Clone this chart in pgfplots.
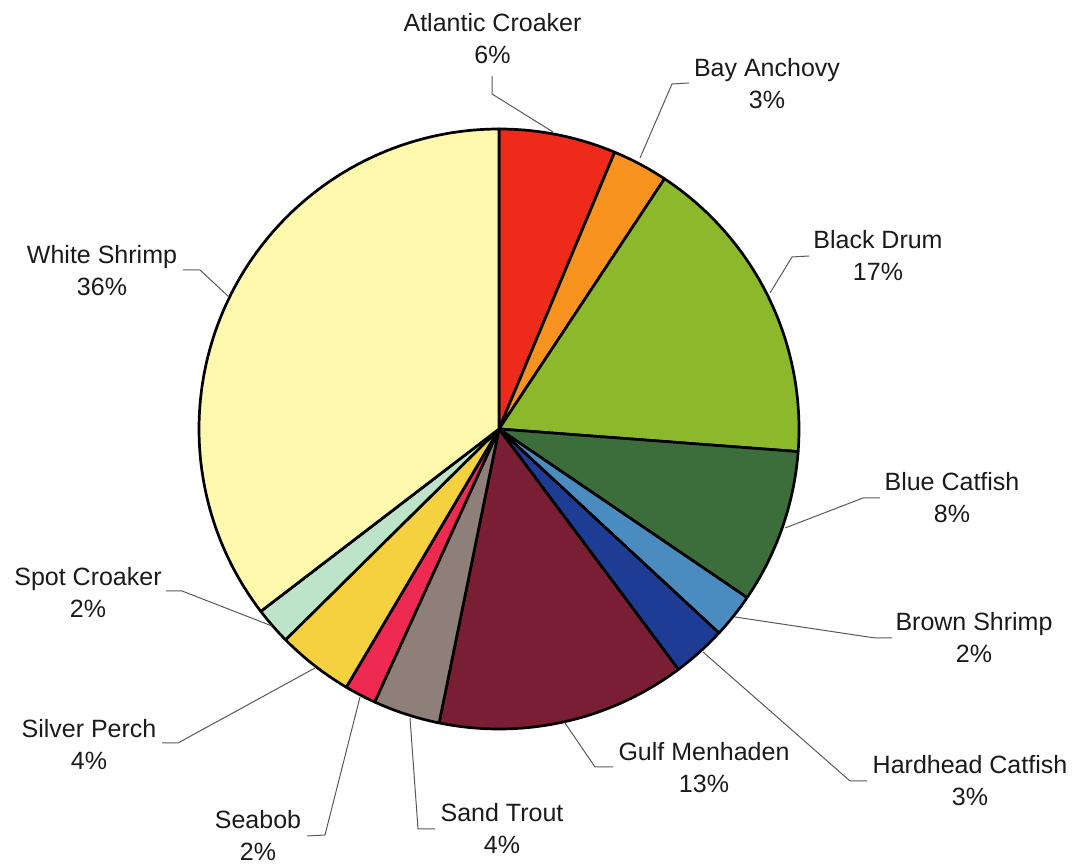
\documentclass[border=0pt]{standalone}
\usepackage{pgfplots}
\pgfplotsset{compat=1.18}
\usepackage{fontspec}
\setmainfont{Liberation Sans}
\definecolor{cAC}{HTML}{EE2A1B}
\definecolor{cBA}{HTML}{F7931E}
\definecolor{cBD}{HTML}{8CB82B}
\definecolor{cBC}{HTML}{3B6E3B}
\definecolor{cBS}{HTML}{4B8CC0}
\definecolor{cHC}{HTML}{1F3C94}
\definecolor{cGM}{HTML}{7A1E33}
\definecolor{cST}{HTML}{8E8079}
\definecolor{cSB}{HTML}{EE2A50}
\definecolor{cSP}{HTML}{F5D13F}
\definecolor{cSC}{HTML}{BDE3C8}
\definecolor{cWS}{HTML}{FFF9AE}
\definecolor{txt}{HTML}{1A1A1A}
% slice: #1 cumulative share before, #2 share of the slice (percent), #3 colour
\newcommand{\slice}[3]{%
  \addplot[draw=black, line width=1.35pt, line join=round, fill=#3,
    domain={90-3.6*(#1+#2)}:{90-3.6*(#1)}, samples=100]
    ({499+300*cos(x)},{436+300*sin(x)}) -- (axis cs:499,436) -- cycle;}
\newcommand{\lab}[3]{\node[anchor=north, align=center, inner sep=0pt, text=txt,
  font=\fontsize{12.5}{16}\selectfont] at (axis cs:#1,#2) {#3};}
\begin{document}
\begin{tikzpicture}
\begin{axis}[
  scale only axis, width=537.5pt, height=432.5pt,
  xmin=0, xmax=1075, ymin=0, ymax=865,
  hide axis, clip=false]
\path (axis cs:0,0) rectangle (axis cs:1075,865);
% shares (percent), clockwise from the top
\slice{0}{6.3}{cAC}      % Atlantic Croaker
\slice{6.3}{3.0}{cBA}    % Bay Anchovy
\slice{9.3}{16.9}{cBD}   % Black Drum
\slice{26.2}{8.3}{cBC}   % Blue Catfish
\slice{34.5}{2.4}{cBS}   % Brown Shrimp
\slice{36.9}{2.9}{cHC}   % Hardhead Catfish
\slice{39.8}{13.4}{cGM}  % Gulf Menhaden
\slice{53.2}{3.6}{cST}   % Sand Trout
\slice{56.8}{1.7}{cSB}   % Seabob
\slice{58.5}{4.1}{cSP}   % Silver Perch
\slice{62.6}{2.0}{cSC}   % Spot Croaker
\slice{64.6}{35.4}{cWS}  % White Shrimp
% leader lines
\addplot[draw=black!65, line width=0.5pt] coordinates {(492,789)(492,771)(553,733)};
\addplot[draw=black!65, line width=0.5pt] coordinates {(689,782)(672,781)(640,707)};
\addplot[draw=black!65, line width=0.5pt] coordinates {(809,609)(792,608)(770,572)};
\addplot[draw=black!65, line width=0.5pt] coordinates {(880,367)(863,367)(785,337)};
\addplot[draw=black!65, line width=0.5pt] coordinates {(735,248)(875,227)(892,227)};
\addplot[draw=black!65, line width=0.5pt] coordinates {(703,213)(850,84)(867,84)};
\addplot[draw=black!65, line width=0.5pt] coordinates {(565,142)(595,98)(613,98)};
\addplot[draw=black!65, line width=0.5pt] coordinates {(410,147)(418,36)(435,36)};
\addplot[draw=black!65, line width=0.5pt] coordinates {(360,168)(325,30)(307,29)};
\addplot[draw=black!65, line width=0.5pt] coordinates {(315,197)(178,122)(162,122)};
\addplot[draw=black!65, line width=0.5pt] coordinates {(272,239)(182,274)(166,274)};
\addplot[draw=black!65, line width=0.5pt] coordinates {(183,595)(200,595)(229,568)};
% labels
\lab{492.5}{852}{Atlantic Croaker\\6\%}
\lab{767}{807}{Bay Anchovy\\3\%}
\lab{878}{635}{Black Drum\\17\%}
\lab{952}{393}{Blue Catfish\\8\%}
\lab{974}{253}{Brown Shrimp\\2\%}
\lab{970}{110}{Hardhead Catfish\\3\%}
\lab{704}{123}{Gulf Menhaden\\13\%}
\lab{502}{62}{Sand Trout\\4\%}
\lab{258}{55}{Seabob\\2\%}
\lab{89}{146}{Silver Perch\\4\%}
\lab{88}{298}{Spot Croaker\\2\%}
\lab{102}{620}{White Shrimp\\36\%}
\end{axis}
\end{tikzpicture}
\end{document}
